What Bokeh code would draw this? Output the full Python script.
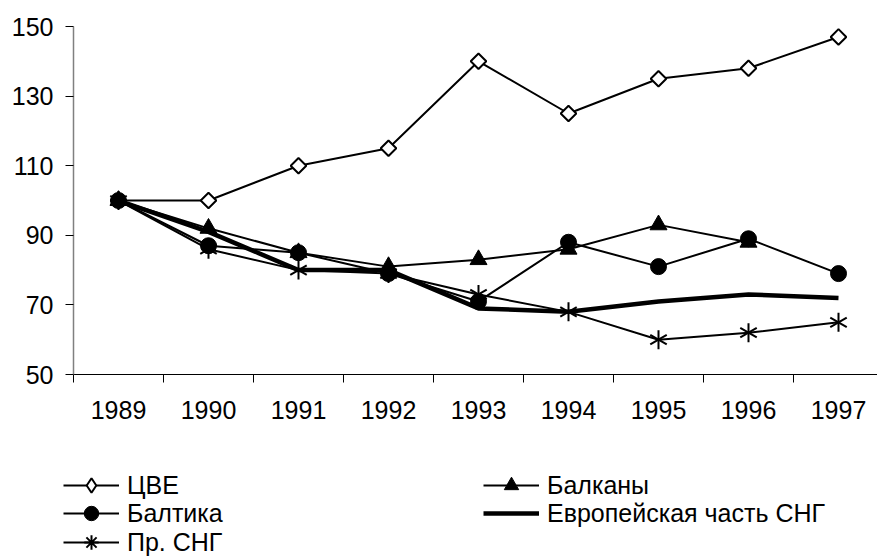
from bokeh.plotting import figure
from bokeh.models import Range1d, FixedTicker, Legend, LegendItem, ColumnDataSource
from bokeh.embed import file_html
from bokeh.resources import INLINE
import math

# ---- data ----
years = ["1989", "1990", "1991", "1992", "1993", "1994", "1995", "1996", "1997"]
cve = [100, 100, 110, 115, 140, 125, 135, 138, 147]          # ЦВЕ
balkany = [100, 92, 85, 81, 83, 86, 93, 88]                  # Балканы (no 1997)
baltika = [100, 87, 85, 79, 71, 88, 81, 89, 79]              # Балтика
evro_sng = [100, 91, 80, 80, 69, 68, 71, 73, 72]             # Европейская часть СНГ
pr_sng = [100, 86, 80, 79, 73, 68, 60, 62, 65]               # Пр. СНГ
y_ticks = [50, 70, 90, 110, 130, 150]

names = ["ЦВЕ", "Балканы", "Балтика", "Европейская часть СНГ", "Пр. СНГ"]

FONT = "Liberation Sans"
FS = "25px"

xs = list(range(len(years)))


def add_series(fig, kind, src, legend_style=False):
    rs = []
    if kind == "cve":
        rs.append(fig.line("x", "y", source=src, line_color="black", line_width=2))
        if legend_style:
            rs.append(fig.scatter("x", "y", source=src, marker="diamond", size=11,
                                  fill_color="white", line_color="black", line_width=2))
        else:
            rs.append(fig.scatter("x", "y", source=src, marker="square", size=11, angle=math.pi / 4,
                                  fill_color="white", line_color="black", line_width=2))
    elif kind == "balk":
        rs.append(fig.line("x", "y", source=src, line_color="black", line_width=2))
        rs.append(fig.scatter("x", "y", source=src, marker="triangle", size=17,
                              fill_color="black", line_color="black", line_width=1))
    elif kind == "balt":
        rs.append(fig.line("x", "y", source=src, line_color="black", line_width=2))
        rs.append(fig.scatter("x", "y", source=src, marker="circle", size=16,
                              fill_color="black", line_color="black", line_width=1))
    elif kind == "evro":
        rs.append(fig.line("x", "y", source=src, line_color="black", line_width=4.5))
    elif kind == "pr":
        rs.append(fig.line("x", "y", source=src, line_color="black", line_width=2))
        if legend_style:
            rs.append(fig.scatter("x", "y", source=src, marker="asterisk", size=16,
                                  line_color="black", line_width=2))
        else:
            for ang in (math.pi / 2, math.pi / 6, -math.pi / 6):
                rs.append(fig.scatter("x", "y", source=src, marker="dash", size=19, angle=ang,
                                      line_color="black", line_width=2))
    return rs


# ---- main chart ----
p = figure(width=877, height=428, output_backend="svg", toolbar_location=None,
           x_range=Range1d(-0.5, -0.5 + 804 / 90), y_range=Range1d(50, 150),
           min_border_left=73, min_border_right=0, min_border_top=26, min_border_bottom=54)
p.xgrid.visible = False
p.ygrid.visible = False
p.outline_line_color = None

xa = p.xaxis[0]
xa.ticker = FixedTicker(ticks=xs, minor_ticks=[v - 0.5 for v in xs] + [xs[-1] + 0.5])
xa.major_label_overrides = {i: y for i, y in enumerate(years)}
xa.major_tick_line_color = None
xa.major_tick_out = 8
xa.major_tick_in = 0
xa.minor_tick_line_color = "black"
xa.minor_tick_out = 8
xa.minor_tick_in = 0
xa.axis_line_color = "black"
xa.major_label_standoff = 18
xa.major_label_text_font = FONT
xa.major_label_text_font_size = FS
xa.major_label_text_color = "black"

ya = p.yaxis[0]
ya.ticker = FixedTicker(ticks=y_ticks)
ya.minor_tick_line_color = None
ya.major_tick_out = 8
ya.major_tick_in = 0
ya.major_tick_line_color = "black"
ya.axis_line_color = "#808080"
ya.axis_line_width = 1.5
ya.major_label_standoff = 12
ya.major_label_text_font = FONT
ya.major_label_text_font_size = FS
ya.major_label_text_color = "black"

series = [("cve", cve), ("balk", balkany), ("balt", baltika), ("evro", evro_sng), ("pr", pr_sng)]
for kind, vals in series:
    src = ColumnDataSource(data=dict(x=xs[:len(vals)], y=vals))
    add_series(p, kind, src)

# ---- legend area (its renderers hold the same data, out of this frame's view) ----
lf = figure(width=877, height=128, output_backend="svg", toolbar_location=None,
            x_range=Range1d(1000, 1001), y_range=Range1d(1000, 1001),
            x_axis_type=None, y_axis_type=None, min_border=0, outline_line_color=None)
lf.grid.visible = False

leg_items = {}
for (kind, vals), name in zip(series, names):
    src = ColumnDataSource(data=dict(x=xs[:len(vals)], y=vals))
    leg_items[kind] = LegendItem(label=name, renderers=add_series(lf, kind, src, legend_style=True))


def make_legend(item, loc):
    return Legend(items=[item], location=loc, orientation="vertical",
                  glyph_width=56, glyph_height=36, label_standoff=8, spacing=0,
                  padding=0, margin=0, border_line_color=None, background_fill_alpha=0,
                  label_text_font=FONT, label_text_font_size=FS, label_text_color="black",
                  label_height=28)


# one legend per entry: two columns, three and two rows
COL1, COL2 = 63, 483
ROW1, ROW2, ROW3 = 53, 25, -4
lf.add_layout(make_legend(leg_items["cve"], (COL1, ROW1)))
lf.add_layout(make_legend(leg_items["balt"], (COL1, ROW2)))
lf.add_layout(make_legend(leg_items["pr"], (COL1, ROW3)))
lf.add_layout(make_legend(leg_items["balk"], (COL2, ROW1)))
lf.add_layout(make_legend(leg_items["evro"], (COL2, ROW2)))

open("out.html", "w").write(file_html([p, lf], INLINE))
